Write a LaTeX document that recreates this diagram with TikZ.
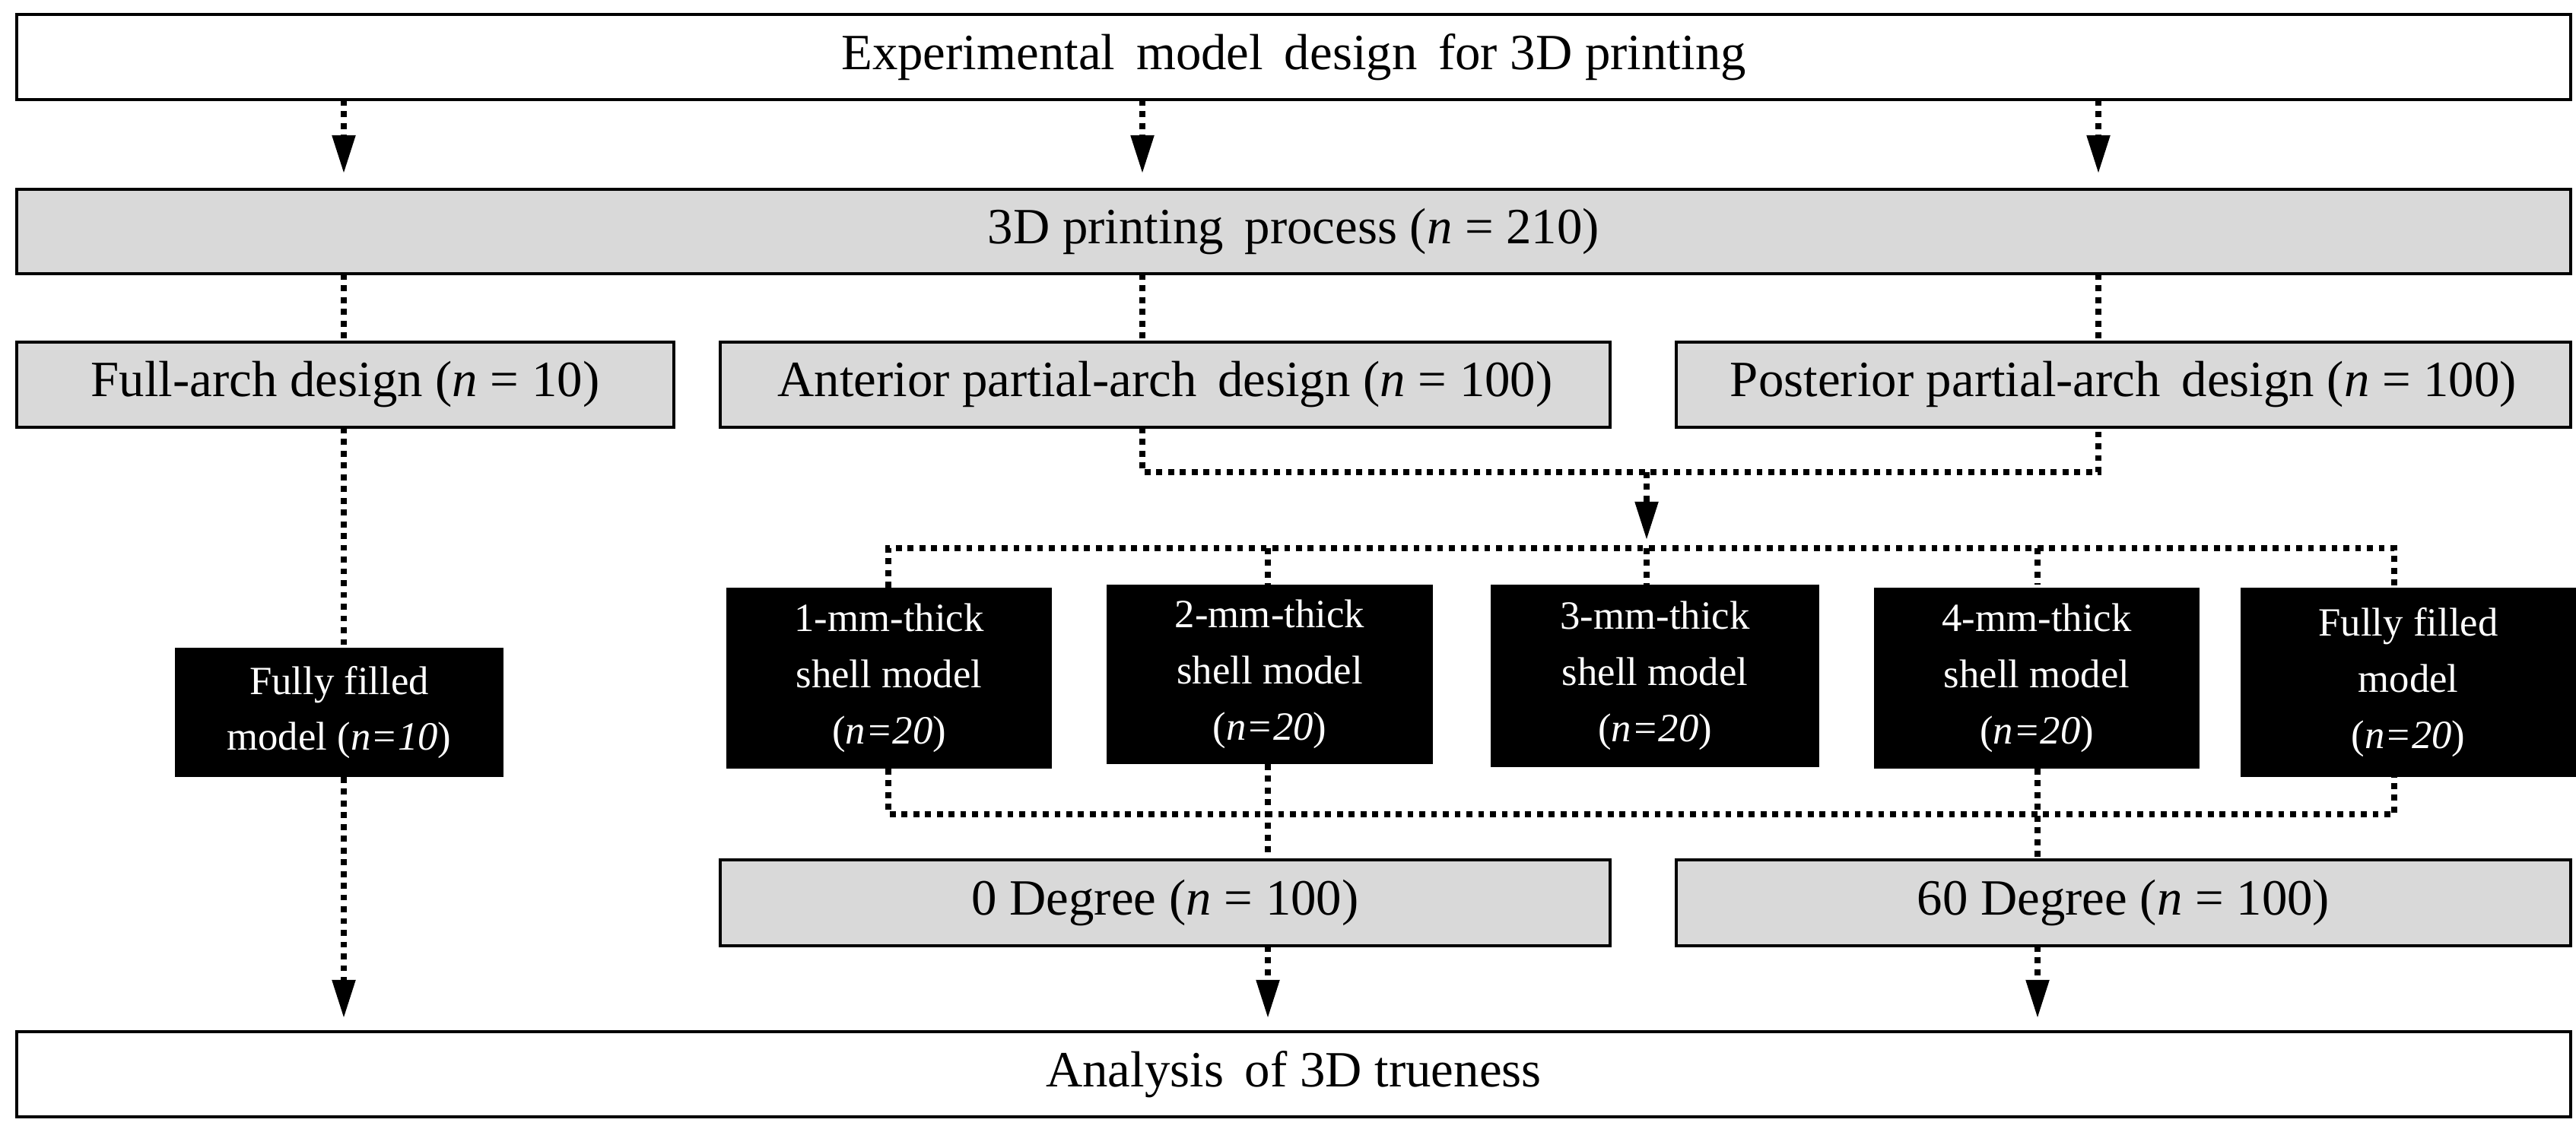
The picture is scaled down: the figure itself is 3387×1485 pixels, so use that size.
\documentclass[tikz,border=0pt]{standalone}
\usepackage{fontspec}
\setmainfont{Liberation Serif}
\usetikzlibrary{arrows.meta}
\begin{document}
\begin{tikzpicture}[x=0.01cm,y=-0.01cm,
  box/.style={draw,line width=1.2pt,inner sep=0pt,font=\fontsize{19}{22}\selectfont},
  grey/.style={box,fill=gray!30},
  blk/.style={fill=black,text=white,inner sep=0pt,align=center,font=\fontsize{15}{21}\selectfont},
  con/.style={line width=2.2pt,dash pattern=on 2.2pt off 2.2pt},
  arr/.style={con,-{Triangle[length=14pt,width=9pt,line width=0pt]}}]
\useasboundingbox (0,0) rectangle (3387,1485);
\newcommand{\bx}[6]{\node[#1,minimum width={(#4-#2)*0.01cm},minimum height={(#5-#3)*0.01cm}] (#6) at ({(#2+#4)/2},{(#3+#5)/2})}
\bx{box}{22}{19}{3380}{131}{top} {Experimental\, model\, design\, for 3D printing};
\bx{grey}{22}{249}{3380}{360}{proc} {3D printing\, process (\textit{n} = 210)};
\bx{grey}{22}{450}{886}{562}{full} {Full-arch design (\textit{n} = 10)};
\bx{grey}{947}{450}{2117}{562}{ant} {Anterior partial-arch\, design (\textit{n} = 100)};
\bx{grey}{2204}{450}{3380}{562}{post} {Posterior partial-arch\, design (\textit{n} = 100)};
\bx{blk}{230}{852}{662}{1022}{ff} {Fully filled\\model (\textit{n=10})};
\bx{blk}{955}{773}{1383}{1011}{b1} {1-mm-thick\\shell model\\(\textit{n=20})};
\bx{blk}{1455}{769}{1884}{1005}{b2} {2-mm-thick\\shell model\\(\textit{n=20})};
\bx{blk}{1960}{769}{2392}{1009}{b3} {3-mm-thick\\shell model\\(\textit{n=20})};
\bx{blk}{2464}{773}{2892}{1011}{b4} {4-mm-thick\\shell model\\(\textit{n=20})};
\bx{blk}{2946}{773}{3387}{1022}{b5} {Fully filled\\model\\(\textit{n=20})};
\bx{grey}{947}{1131}{2117}{1244}{d0} {0 Degree (\textit{n} = 100)};
\bx{grey}{2204}{1131}{3380}{1244}{d60} {60 Degree (\textit{n} = 100)};
\bx{box}{22}{1357}{3380}{1469}{ana} {Analysis\, of 3D trueness};
\foreach \x in {452,1502,2759}{
  \draw[arr] (\x,131) -- (\x,227);
  \draw[con] (\x,360) -- (\x,450);}
\draw[con] (1502,562) -- (1502,621) -- (2759,621) -- (2759,562);
\draw[arr] (2165,621) -- (2165,709);
\draw[con] (1168,773) -- (1168,721) -- (3148,721) -- (3148,773);
\foreach \x in {1667,2165,2679}{\draw[con] (\x,721) -- (\x,769);}
\draw[con] (1168,1011) -- (1168,1071) -- (3148,1071) -- (3148,1022);
\draw[con] (1667,1005) -- (1667,1131);
\draw[con] (2679,1011) -- (2679,1131);
\draw[con] (452,562) -- (452,852);
\draw[arr] (452,1022) -- (452,1338);
\draw[arr] (1667,1244) -- (1667,1338);
\draw[arr] (2679,1244) -- (2679,1338);
\end{tikzpicture}
\end{document}
